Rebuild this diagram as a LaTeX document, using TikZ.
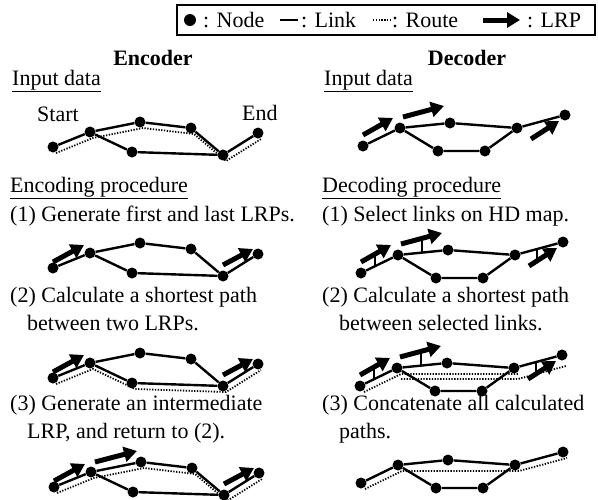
\documentclass[tikz,border=0pt]{standalone}
\usepackage{fontspec}
\setmainfont{Liberation Serif}
\usetikzlibrary{positioning,arrows.meta}

\tikzset{
  dot/.style={circle,fill=black,inner sep=0pt,minimum size=11pt},
  link/.style={line width=2.4pt},
  route/.style={line width=1.8pt,dash pattern=on 1.3pt off 1.5pt},
  lrp/.style={line width=5pt,-{Triangle[length=13pt,width=15pt]}},
  tick/.style={line width=1.6pt},
  txt/.style={inner sep=0pt,anchor=west,align=left,font=\fontsize{22}{28}\selectfont},
  head/.style={inner sep=0pt,font=\fontsize{22}{28}\selectfont\bfseries},
}

% road network seen by the encoder
\newcommand{\encgraph}{%
  \foreach \nm/\px/\py in {a/0/0,b/37/-15,c/87/-25,d/138/-19,e/79/5,f/170/8,g/205/-14}
    \node[dot] (\nm) at (\px,\py) {};
  \draw[link] (a) -- (b) -- (c) -- (d) -- (f) -- (g) (b) -- (e) -- (f);}
% road network (HD map) seen by the decoder
\newcommand{\decgraph}{%
  \foreach \nm/\px/\py in {a/0/0,b/37/-18,c/87/-23,d/154/-18,e/75/5,f/122/5,g/202/-31}
    \node[dot] (\nm) at (\px,\py) {};
  \draw[link] (a) -- (b) -- (c) -- (d) -- (g) (b) -- (e) -- (f) -- (d);}

\begin{document}
\begin{tikzpicture}[x=1pt,y=-1pt]
  \useasboundingbox (0,0) rectangle (598,499);

  % legend
  \draw[line width=1.6pt] (177,5) rectangle (595,35);
  \node[dot,minimum size=12pt] (kdot) at (190,20) {};
  \node[txt] (knode) at (203,20) {: Node};
  \node[txt] (klink) at (301,20) {: Link};
  \node[txt] (kroute) at (392,20) {: Route};
  \node[txt] (klrp) at (527,20) {: LRP};
  \draw[link] ([xshift=-21pt]klink.west) -- ([xshift=-3pt]klink.west);
  \draw[route] ([xshift=-19pt]kroute.west) -- ([xshift=-2pt]kroute.west);
  \draw[lrp] ([xshift=-44pt]klrp.west) -- ([xshift=-7pt]klrp.west);

  % headings and texts
  \node[head] (enc) at (153,58) {Encoder};
  \node[head] (dec) at (467,58) {Decoder};
  \node[txt] (encin) at (12,81) {\underline{Input data}};
  \node[txt] (decin) at (324,81) {\underline{Input data}};
  \node[txt] (start) at (37,114) {Start};
  \node[txt] (end) at (242,113) {End};
  \node[txt] (encproc) at (10,188) {\underline{Encoding procedure}};
  \node[txt] (decproc) at (322,188) {\underline{Decoding procedure}};
  \node[txt] (enc1) at (10,216) {(1) Generate first and last LRPs.};
  \node[txt] (dec1) at (322,216) {(1) Select links on HD map.};
  \node[txt] (enc2) at (10,309) {(2) Calculate a shortest path\\\hspace*{17pt}between two LRPs.};
  \node[txt] (dec2) at (322,309) {(2) Calculate a shortest path\\\hspace*{17pt}between selected links.};
  \node[txt] (enc3) at (10,419) {(3) Generate an intermediate\\\hspace*{17pt}LRP, and return to (2).};
  \node[txt] (dec3) at (322,419) {(3) Concatenate all calculated\\\hspace*{17pt}paths.};

  % encoder
  \begin{scope}[shift={(53,147)},name prefix=e0-]
    \encgraph
  \end{scope}
  \draw[route,transform canvas={shift={(3,6)}}] (e0-a.center) -- (e0-b.center) -- (e0-c.center) -- (e0-d.center) -- (e0-f.center) -- (e0-g.center);

  \begin{scope}[shift={(53,268)},name prefix=e1-]
    \encgraph
    \draw[lrp] (0,-6) -- (31,-23);
    \draw[lrp] (170,-3) -- (200,-19);
  \end{scope}

  \begin{scope}[shift={(53,378)},name prefix=e2-]
    \encgraph
    \draw[lrp] (0,-6) -- (31,-23);
    \draw[lrp] (170,-3) -- (200,-19);
  \end{scope}
  \draw[route,transform canvas={shift={(3,6)}}] (e2-a.center) -- (e2-b.center) -- (e2-e.center) -- (e2-f.center) -- (e2-g.center);

  \begin{scope}[shift={(54,487)},name prefix=e3-]
    \encgraph
    \draw[lrp] (0,-6) -- (31,-23);
    \draw[lrp] (41,-25) -- (83,-36);
    \draw[lrp] (170,-3) -- (200,-19);
  \end{scope}
  \draw[route,transform canvas={shift={(3,6)}}] (e3-a.center) -- (e3-b.center) -- (e3-c.center) -- (e3-d.center) -- (e3-f.center) -- (e3-g.center);

  % decoder
  \begin{scope}[shift={(363,146)},name prefix=d0-]
    \decgraph
    \draw[lrp] (0,-11) -- (30,-28);
    \draw[lrp] (40,-29) -- (81,-40);
    \draw[lrp] (168,-7) -- (196,-25);
  \end{scope}

  \begin{scope}[shift={(361,273)},name prefix=d1-]
    \decgraph
    \draw[tick] (14,-19) -- (14,-7);
    \draw[tick] (61,-34) -- (61,-20);
    \draw[tick] (176,-24) -- (176,-12);
    \draw[lrp] (0,-11) -- (30,-28);
    \draw[lrp] (40,-29) -- (81,-40);
    \draw[lrp] (168,-7) -- (196,-25);
  \end{scope}

  \begin{scope}[shift={(360,386)},name prefix=d2-]
    \decgraph
    \draw[tick] (14,-19) -- (14,-7);
    \draw[tick] (61,-34) -- (61,-20);
    \draw[tick] (176,-24) -- (176,-12);
    \draw[lrp] (0,-11) -- (30,-28);
    \draw[lrp] (40,-29) -- (81,-40);
    \draw[lrp] (168,-7) -- (196,-25);
  \end{scope}
  \draw[route,transform canvas={shift={(4,6)}}] (d2-a.center) -- (d2-b.center) -- (d2-d.center);
  \draw[route,transform canvas={shift={(4,11)}}] (d2-b.center) -- (d2-d.center) -- (d2-g.center);

  \begin{scope}[shift={(361,483)},name prefix=d3-]
    \decgraph
  \end{scope}
  \draw[route,transform canvas={shift={(4,6)}}] (d3-a.center) -- (d3-b.center) -- (d3-d.center) -- (d3-g.center);
\end{tikzpicture}
\end{document}
